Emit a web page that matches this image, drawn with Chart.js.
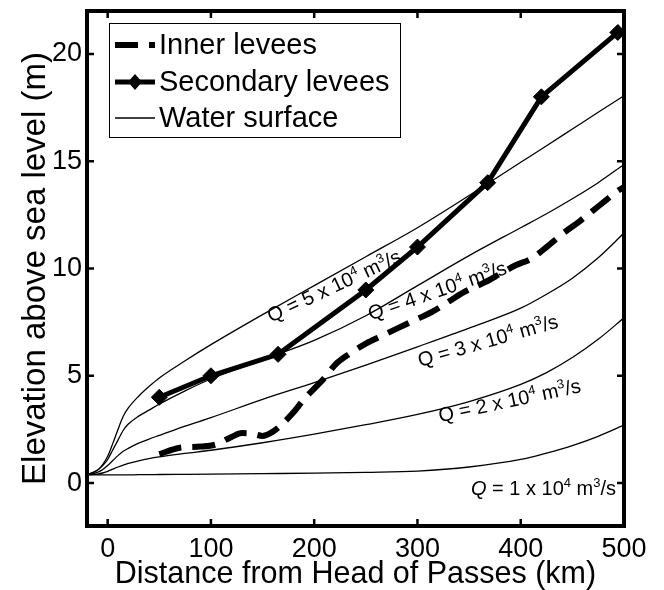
<!DOCTYPE html>
<html lang="en">

<head>
  <meta charset="UTF-8" />
  <title>Levees and water surface - Lower Mississippi</title>
  <script src="https://cdn.jsdelivr.net/npm/chart.js"></script>
  <style>
    html,
    body {
      margin: 0;
      padding: 0;
      background: #fff;
    }

    #wrap {
      width: 664px;
      height: 590px;
    }
  </style>
</head>

<body>
  <div id="wrap">
    <canvas id="levees" width="664" height="590"></canvas>
  </div>

  <script>
    // water surface profiles, one per discharge
    const distKm = [-20, -10, -5, 0, 5, 10, 15, 20, 30, 40, 50, 75, 100, 150, 200, 250, 300, 350, 400, 425, 450, 475, 500];
    const surfQ1 = [0.38, 0.38, 0.38, 0.38, 0.38, 0.38, 0.38, 0.38, 0.39, 0.39, 0.40, 0.41, 0.42, 0.44, 0.46, 0.50, 0.56, 0.75, 1.10, 1.40, 1.75, 2.18, 2.70];
    const surfQ2 = [0.38, 0.42, 0.47, 0.55, 0.65, 0.75, 0.84, 0.92, 1.04, 1.14, 1.22, 1.38, 1.53, 1.88, 2.28, 2.72, 3.20, 3.80, 4.60, 5.15, 5.85, 6.70, 7.70];
    const surfQ3 = [0.38, 0.50, 0.62, 0.82, 1.05, 1.28, 1.48, 1.62, 1.86, 2.05, 2.22, 2.65, 3.05, 3.90, 4.68, 5.50, 6.35, 7.22, 8.15, 8.80, 9.55, 10.50, 11.65];
    const surfQ4 = [0.38, 0.60, 0.80, 1.10, 1.55, 2.00, 2.45, 2.75, 3.12, 3.40, 3.68, 4.30, 4.85, 5.75, 6.65, 7.80, 9.20, 10.60, 11.90, 12.55, 13.25, 14.00, 14.85];
    const surfQ5 = [0.40, 0.60, 0.85, 1.25, 1.85, 2.50, 3.10, 3.50, 4.05, 4.50, 4.90, 5.70, 6.45, 7.85, 9.20, 10.55, 11.90, 13.40, 14.95, 15.72, 16.50, 17.28, 18.05];

    // inner levee crest
    const innerKm = [50, 70, 90, 105, 120, 130, 140, 150, 160, 170, 180, 190, 200, 210, 220, 235, 250, 265, 280, 300, 315, 330, 345, 365, 380, 395, 410, 425, 440, 457, 470, 483, 492, 500];
    const innerElev = [1.35, 1.65, 1.70, 1.80, 2.15, 2.33, 2.30, 2.20, 2.40, 2.80, 3.30, 3.90, 4.40, 4.90, 5.50, 6.05, 6.50, 6.85, 7.20, 7.65, 8.00, 8.45, 8.90, 9.35, 9.75, 10.15, 10.45, 11.00, 11.60, 12.20, 12.70, 13.20, 13.55, 13.80];

    // secondary levee crest
    const secondaryKm = [50, 100, 165, 250, 300, 368, 420, 494];
    const secondaryElev = [4, 5, 6, 9, 11, 14, 18, 21];

    const xTicks = [0, 100, 200, 300, 400, 500];
    const yTicks = [0, 5, 10, 15, 20];

    // discharge labels along the profiles (km, m, angle in degrees)
    const qValues = [1, 2, 3, 4, 5];
    const qLabelKm = [422, 389, 368, 319, 219];
    const qLabelElev = [-0.23, 3.86, 6.65, 8.98, 9.2];
    const qLabelAngle = [0, -12, -16, -19, -25];

    const FONT = "'Liberation Sans', Arial, Helvetica, sans-serif";

    function pts(xs, ys) {
      return xs.map((x, i) => ({ x: x, y: ys[i] }));
    }

    function surface(ys) {
      return {
        label: 'Water surface',
        data: pts(distKm, ys),
        borderColor: '#000',
        borderWidth: 1.3,
        pointRadius: 0,
        cubicInterpolationMode: 'monotone',
        order: 3
      };
    }

    const datasets = [
      {
        label: 'Secondary levees',
        data: pts(secondaryKm, secondaryElev),
        borderColor: '#000',
        backgroundColor: '#000',
        borderWidth: 5,
        pointStyle: 'rectRot',
        pointRadius: 8,
        pointBorderWidth: 1,
        tension: 0,
        order: 1
      },
      {
        label: 'Inner levees',
        data: pts(innerKm, innerElev),
        borderColor: '#000',
        borderWidth: 6,
        borderDash: [23, 11],
        borderCapStyle: 'butt',
        pointRadius: 0,
        cubicInterpolationMode: 'monotone',
        order: 2
      },
      surface(surfQ1),
      surface(surfQ2),
      surface(surfQ3),
      surface(surfQ4),
      surface(surfQ5)
    ];

    // frame, inward ticks, legend box and Q labels
    const frame = {
      id: 'frame',
      afterDatasetsDraw(chart) {
        const ctx = chart.ctx;
        const sx = chart.scales.x;
        const sy = chart.scales.y;

        // Q labels
        ctx.save();
        ctx.fillStyle = '#000';
        ctx.textBaseline = 'alphabetic';
        qValues.forEach((q, i) => {
          const px = sx.getPixelForValue(qLabelKm[i]);
          const py = sy.getPixelForValue(qLabelElev[i]);
          const parts = [
            { t: 'Q', it: q === 1 },
            { t: ' = ' + q + ' x 10' },
            { t: '4', sup: true },
            { t: ' m' },
            { t: '3', sup: true },
            { t: '/s' }
          ];
          const fontOf = p => (p.it ? 'italic ' : '') + (p.sup ? 13 : 20) + 'px ' + FONT;
          let w = 0;
          parts.forEach(p => { ctx.font = fontOf(p); w += ctx.measureText(p.t).width; });
          ctx.save();
          ctx.translate(px, py);
          ctx.rotate(qLabelAngle[i] * Math.PI / 180);
          let x = -w / 2;
          parts.forEach(p => {
            ctx.font = fontOf(p);
            ctx.fillText(p.t, x, p.sup ? -1 : 7);
            x += ctx.measureText(p.t).width;
          });
          ctx.restore();
        });
        ctx.restore();
      },
      afterDraw(chart) {
        const ctx = chart.ctx;
        const a = chart.chartArea;
        const sx = chart.scales.x;
        const sy = chart.scales.y;

        ctx.save();
        ctx.strokeStyle = '#000';

        // ticks pointing into the plot, on all four sides
        ctx.lineWidth = 2.5;
        ctx.beginPath();
        xTicks.forEach(v => {
          const px = sx.getPixelForValue(v);
          ctx.moveTo(px, a.bottom);
          ctx.lineTo(px, a.bottom - 7);
          ctx.moveTo(px, a.top);
          ctx.lineTo(px, a.top + 7);
        });
        yTicks.forEach(v => {
          const py = sy.getPixelForValue(v);
          ctx.moveTo(a.left, py);
          ctx.lineTo(a.left + 7, py);
          ctx.moveTo(a.right, py);
          ctx.lineTo(a.right - 7, py);
        });
        ctx.stroke();

        ctx.lineWidth = 4;
        ctx.strokeRect(a.left, a.top, a.right - a.left, a.bottom - a.top);

        // legend
        const x0 = a.left + 22;
        const y0 = a.top + 12;
        ctx.fillStyle = '#fff';
        ctx.fillRect(x0, y0, 291, 114);
        ctx.lineWidth = 1;
        ctx.strokeRect(x0 + 0.5, y0 + 0.5, 291, 114);

        const rows = [
          { text: 'Inner levees', ds: datasets[1], dy: 22 },
          { text: 'Secondary levees', ds: datasets[0], dy: 59 },
          { text: 'Water surface', ds: datasets[2], dy: 95 }
        ];
        rows.forEach(r => {
          const ly = y0 + r.dy;
          ctx.save();
          ctx.lineWidth = r.ds.borderWidth;
          ctx.lineCap = 'butt';
          ctx.setLineDash(r.ds.borderDash || []);
          ctx.beginPath();
          ctx.moveTo(x0 + 6, ly);
          ctx.lineTo(x0 + 46, ly);
          ctx.stroke();
          ctx.restore();
          if (r.ds.pointStyle === 'rectRot') {
            ctx.fillStyle = '#000';
            ctx.beginPath();
            ctx.moveTo(x0 + 26, ly - 8);
            ctx.lineTo(x0 + 33, ly);
            ctx.lineTo(x0 + 26, ly + 8);
            ctx.lineTo(x0 + 19, ly);
            ctx.closePath();
            ctx.fill();
          }
          ctx.fillStyle = '#000';
          ctx.font = '29px ' + FONT;
          ctx.textBaseline = 'middle';
          ctx.textAlign = 'left';
          ctx.fillText(r.text, x0 + 50, ly + 1);
        });

        ctx.restore();
      }
    };

    new Chart(document.getElementById('levees'), {
      type: 'line',
      data: { datasets: datasets },
      options: {
        responsive: false,
        animation: false,
        devicePixelRatio: 1,
        layout: { padding: { top: 11, right: 40, left: 0, bottom: 0 } },
        plugins: {
          legend: { display: false },
          tooltip: { enabled: false }
        },
        scales: {
          x: {
            type: 'linear',
            min: -20,
            max: 500,
            afterBuildTicks: s => { s.ticks = xTicks.map(v => ({ value: v })); },
            afterFit: s => { s.height = 64; s.paddingLeft = 0; s.paddingRight = 0; },
            grid: { display: false, drawTicks: false },
            border: { display: false },
            ticks: {
              color: '#000',
              padding: 7,
              maxRotation: 0,
              font: { family: FONT, size: 27 }
            },
            title: {
              display: true,
              text: 'Distance from Head of Passes (km)',
              color: '#000',
              padding: { top: 0, bottom: 0 },
              font: { family: FONT, size: 30.5, lineHeight: 1 }
            }
          },
          y: {
            type: 'linear',
            min: -2,
            max: 22,
            afterBuildTicks: s => { s.ticks = yTicks.map(v => ({ value: v })); },
            afterFit: s => { s.width = 87; s.paddingTop = 0; s.paddingBottom = 0; },
            grid: { display: false, drawTicks: false },
            border: { display: false },
            ticks: {
              color: '#000',
              padding: 5,
              font: { family: FONT, size: 27 }
            },
            title: {
              display: true,
              text: 'Elevation above sea level (m)',
              color: '#000',
              padding: { top: 19, bottom: 0 },
              font: { family: FONT, size: 33, lineHeight: 1 }
            }
          }
        }
      },
      plugins: [frame]
    });
  </script>
</body>

</html>
